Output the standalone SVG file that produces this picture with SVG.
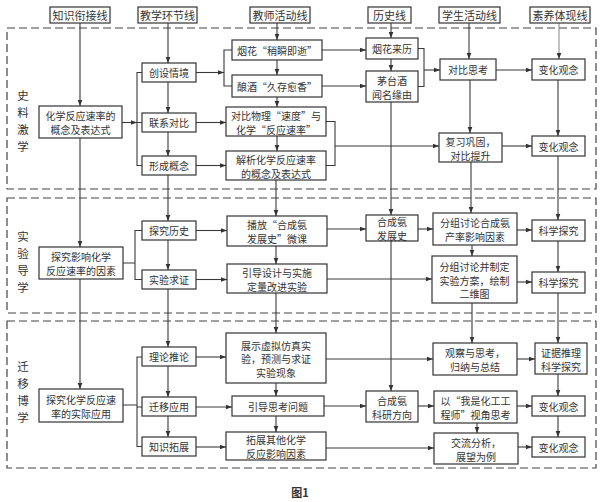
<svg xmlns="http://www.w3.org/2000/svg" width="600" height="502" viewBox="0 0 600 502">
<style>
.bx{fill:#fff;stroke:#333;stroke-width:1.2}
.sec{fill:none;stroke:#444;stroke-width:1.2;stroke-dasharray:8 4}
text,tspan{font-family:"Noto Sans CJK SC","Liberation Serif",sans-serif;font-size:10px;fill:#333;text-anchor:middle;dominant-baseline:central}
.hd{font-size:11px}
.lb,.lb tspan{font-size:11.5px}
.ln{fill:none;stroke:#3a3a3a;stroke-width:1.1}
.ar{marker-end:url(#ah)}
.thin{stroke:#777;stroke-width:0.9}
</style>
<defs>
<marker id="ah" markerWidth="7" markerHeight="6" refX="6.5" refY="3" orient="auto" markerUnits="userSpaceOnUse">
<path d="M0,0.5 L6.5,3 L0,5.5 z" fill="#333"/>
</marker>
</defs>
<rect width="600" height="502" fill="#fff"/>
<g id="sections">
<rect class="sec" x="7" y="28" width="589" height="161"/>
<rect class="sec" x="7" y="198" width="589" height="115"/>
<rect class="sec" x="7" y="321" width="589" height="147"/>
<text class="lb"><tspan x="23" y="95">史</tspan><tspan x="23" y="112">料</tspan><tspan x="23" y="129">激</tspan><tspan x="23" y="146">学</tspan></text>
<text class="lb"><tspan x="23" y="236">实</tspan><tspan x="23" y="253">验</tspan><tspan x="23" y="270">导</tspan><tspan x="23" y="287">学</tspan></text>
<text class="lb"><tspan x="23" y="366">迁</tspan><tspan x="23" y="383">移</tspan><tspan x="23" y="400">博</tspan><tspan x="23" y="417">学</tspan></text>
</g>
<g id="connectors">
<path class="ln ar" d="M80,23 V106"/><path class="ln ar" d="M80,138 V247"/><path class="ln ar" d="M80,279 V389"/>
<path class="ln ar" d="M168,23 V63"/><path class="ln ar" d="M168,82 V113"/><path class="ln ar" d="M168,132 V156"/><path class="ln ar" d="M168,175 V221"/><path class="ln ar" d="M168,240 V270"/><path class="ln ar" d="M168,289 V347"/><path class="ln ar" d="M168,366 V397"/><path class="ln ar" d="M168,416 V437"/>
<path class="ln ar" d="M277,23 V40"/><path class="ln ar" d="M277,60 V75"/><path class="ln ar" d="M277,97 V107"/><path class="ln ar" d="M277,136 V151"/><path class="ln ar" d="M276,180 V216"/><path class="ln ar" d="M276,246 V264"/><path class="ln ar" d="M276,293 V333"/><path class="ln ar" d="M276,383 V396"/><path class="ln ar" d="M276,416 V432"/>
<path class="ln ar" d="M391,23 V38"/><path class="ln ar" d="M391,59 V71"/><path class="ln ar" d="M391,102 V215"/><path class="ln ar" d="M391,241 V391"/>
<path class="ln ar" d="M469,23 V59"/><path class="ln ar" d="M470,80 V133"/><path class="ln ar" d="M471,162 V213"/><path class="ln ar" d="M472,245 V256"/><path class="ln ar" d="M472,303 V343"/><path class="ln ar" d="M477,423 V433"/>
<path class="ln ar thin" d="M559,23 V59"/><path class="ln ar" d="M558,80 V136"/><path class="ln ar" d="M558,156 V220"/><path class="ln ar" d="M558,241 V272"/><path class="ln ar" d="M558,293 V343"/><path class="ln ar" d="M558,374 V396"/><path class="ln ar" d="M558,416 V437"/>
<path class="ln ar" d="M122,122.5 H137"/><path class="ln" d="M142,72.5 H137 V165.5 H142 M137,122.5 H142"/>
<path class="ln" d="M123,263 H135 M142,230.5 H135 V279.5 H142"/>
<path class="ln" d="M123,405 H137 M142,357 H137 V446.5 H142 M137,407 H142"/>
<path class="ln ar" d="M196,72.5 H224"/><path class="ln" d="M232,50 H224 V86 H232"/>
<path class="ln ar" d="M196,122.5 H226"/><path class="ln ar" d="M196,165.5 H226"/>
<path class="ln ar" d="M196,230.5 H227"/><path class="ln ar" d="M196,279.5 H227"/>
<path class="ln ar" d="M196,357 H226"/><path class="ln ar" d="M196,407 H232"/><path class="ln ar" d="M196,447 H226"/>
<path class="ln ar" d="M322,50 H366"/><path class="ln ar" d="M322,86 H366"/>
<path class="ln" d="M326,121.5 H335 V165.5 H326"/><path class="ln ar" d="M335,146 H439"/>
<path class="ln" d="M418,48.5 H424 V86.5 H418"/><path class="ln ar" d="M424,70 H440"/>
<path class="ln ar" d="M327,229 H366"/><path class="ln ar" d="M418,229 H433"/>
<path class="ln ar" d="M327,279 H432"/>
<path class="ln ar" d="M326,359 H433"/>
<path class="ln ar" d="M324,406 H366"/><path class="ln ar" d="M418,406 H434"/>
<path class="ln ar" d="M326,448 H434"/>
<path class="ln ar" d="M496,70 H532"/><path class="ln ar" d="M502,146 H532"/>
<path class="ln ar" d="M517,230 H532"/><path class="ln ar" d="M517,282 H532"/>
<path class="ln ar" d="M517,359 H535"/><path class="ln ar" d="M517,406 H532"/><path class="ln ar" d="M518,447 H532"/>
</g>
<g id="headers">
<g id="h-knowledge"><rect class="bx" x="50" y="7" width="60" height="16"/><text class="hd" x="80" y="15">知识衔接线</text></g>
<g id="h-teaching"><rect class="bx" x="138" y="7" width="59" height="16"/><text class="hd" x="167.5" y="15">教学环节线</text></g>
<g id="h-teacher"><rect class="bx" x="250" y="7" width="60" height="16"/><text class="hd" x="280" y="15">教师活动线</text></g>
<g id="h-history"><rect class="bx" x="368" y="7" width="43" height="16"/><text class="hd" x="389.5" y="15">历史线</text></g>
<g id="h-student"><rect class="bx" x="439" y="7" width="61" height="16"/><text class="hd" x="469.5" y="15">学生活动线</text></g>
<g id="h-competency"><rect class="bx" x="530" y="7" width="60" height="16"/><text class="hd" x="560" y="15">素养体现线</text></g>
</g>
<g id="k1"><rect class="bx" x="39" y="106" width="83" height="32"/><text><tspan x="80.5" y="115">化学反应速率的</tspan><tspan x="80.5" y="129">概念及表达式</tspan></text></g>
<g id="k2"><rect class="bx" x="39" y="247" width="84" height="32"/><text><tspan x="81" y="256">探究影响化学</tspan><tspan x="81" y="270">反应速率的因素</tspan></text></g>
<g id="k3"><rect class="bx" x="39" y="389" width="84" height="33"/><text><tspan x="81" y="398.5">探究化学反应速</tspan><tspan x="81" y="412.5">率的实际应用</tspan></text></g>
<g id="t1"><rect class="bx" x="142" y="63" width="54" height="19"/><text x="169" y="72.5">创设情境</text></g>
<g id="t2"><rect class="bx" x="142" y="113" width="54" height="19"/><text x="169" y="122.5">联系对比</text></g>
<g id="t3"><rect class="bx" x="142" y="156" width="54" height="19"/><text x="169" y="165.5">形成概念</text></g>
<g id="t4"><rect class="bx" x="142" y="221" width="54" height="19"/><text x="169" y="230.5">探究历史</text></g>
<g id="t5"><rect class="bx" x="142" y="270" width="54" height="19"/><text x="169" y="279.5">实验求证</text></g>
<g id="t6"><rect class="bx" x="142" y="347" width="54" height="19"/><text x="169" y="356.5">理论推论</text></g>
<g id="t7"><rect class="bx" x="142" y="397" width="54" height="19"/><text x="169" y="406.5">迁移应用</text></g>
<g id="t8"><rect class="bx" x="142" y="437" width="54" height="19"/><text x="169" y="446.5">知识拓展</text></g>
<g id="a1"><rect class="bx" x="232" y="40" width="90" height="20"/><text x="277" y="50">烟花“稍瞬即逝”</text></g>
<g id="a2"><rect class="bx" x="232" y="75" width="90" height="22"/><text x="277" y="86">酿酒“久存愈香”</text></g>
<g id="a3"><rect class="bx" x="226" y="107" width="100" height="29"/><text><tspan x="276" y="114.5">对比物理“速度”与</tspan><tspan x="276" y="128.5">化学“反应速率”</tspan></text></g>
<g id="a4"><rect class="bx" x="226" y="151" width="100" height="29"/><text><tspan x="276" y="158.5">解析化学反应速率</tspan><tspan x="276" y="172.5">的概念及表达式</tspan></text></g>
<g id="a5"><rect class="bx" x="227" y="216" width="100" height="30"/><text><tspan x="277" y="224">播放“合成氨</tspan><tspan x="277" y="238">发展史”微课</tspan></text></g>
<g id="a6"><rect class="bx" x="227" y="264" width="100" height="29"/><text><tspan x="277" y="271.5">引导设计与实施</tspan><tspan x="277" y="285.5">定量改进实验</tspan></text></g>
<g id="a7"><rect class="bx" x="226" y="333" width="100" height="50"/><text><tspan x="276" y="344.5">展示虚拟仿真实</tspan><tspan x="276" y="358">验，预测与求证</tspan><tspan x="276" y="371.5">实验现象</tspan></text></g>
<g id="a8"><rect class="bx" x="232" y="396" width="92" height="20"/><text x="278" y="406">引导思考问题</text></g>
<g id="a9"><rect class="bx" x="226" y="432" width="100" height="28"/><text><tspan x="276" y="439">拓展其他化学</tspan><tspan x="276" y="453">反应影响因素</tspan></text></g>
<g id="hs1"><rect class="bx" x="366" y="38" width="52" height="21"/><text x="392" y="48.5">烟花来历</text></g>
<g id="hs2"><rect class="bx" x="366" y="71" width="52" height="31"/><text><tspan x="392" y="79.5">茅台酒</tspan><tspan x="392" y="93.5">闻名缘由</tspan></text></g>
<g id="hs3"><rect class="bx" x="366" y="215" width="52" height="26"/><text><tspan x="392" y="221">合成氨</tspan><tspan x="392" y="235">发展史</tspan></text></g>
<g id="hs4"><rect class="bx" x="366" y="391" width="52" height="31"/><text><tspan x="392" y="399.5">合成氨</tspan><tspan x="392" y="413.5">科研方向</tspan></text></g>
<g id="s1"><rect class="bx" x="440" y="59" width="56" height="21"/><text x="468" y="69.5">对比思考</text></g>
<g id="s2"><rect class="bx" x="439" y="133" width="63" height="29"/><text><tspan x="470.5" y="140.5">复习巩固，</tspan><tspan x="470.5" y="154.5">对比提升</tspan></text></g>
<g id="s3"><rect class="bx" x="433" y="213" width="84" height="32"/><text><tspan x="475" y="222">分组讨论合成氨</tspan><tspan x="475" y="236">产率影响因素</tspan></text></g>
<g id="s4"><rect class="bx" x="432" y="256" width="85" height="47"/><text><tspan x="474.5" y="266">分组讨论并制定</tspan><tspan x="474.5" y="279.5">实验方案，绘制</tspan><tspan x="474.5" y="293">二维图</tspan></text></g>
<g id="s5"><rect class="bx" x="433" y="343" width="84" height="32"/><text><tspan x="475" y="352">观察与思考，</tspan><tspan x="475" y="366">归纳与总结</tspan></text></g>
<g id="s6"><rect class="bx" x="434" y="391" width="83" height="32"/><text><tspan x="475.5" y="400">以“我是化工工</tspan><tspan x="475.5" y="414">程师”视角思考</tspan></text></g>
<g id="s7"><rect class="bx" x="434" y="433" width="84" height="31"/><text><tspan x="476" y="441.5">交流分析，</tspan><tspan x="476" y="455.5">展望为例</tspan></text></g>
<g id="q1"><rect class="bx" x="532" y="59" width="53" height="21"/><text x="558.5" y="69.5">变化观念</text></g>
<g id="q2"><rect class="bx" x="532" y="136" width="53" height="20"/><text x="558.5" y="146">变化观念</text></g>
<g id="q3"><rect class="bx" x="532" y="220" width="53" height="21"/><text x="558.5" y="230.5">科学探究</text></g>
<g id="q4"><rect class="bx" x="532" y="272" width="53" height="21"/><text x="558.5" y="282.5">科学探究</text></g>
<g id="q5"><rect class="bx" x="535" y="343" width="52" height="31"/><text><tspan x="561" y="351.5">证据推理</tspan><tspan x="561" y="365.5">科学探究</tspan></text></g>
<g id="q6"><rect class="bx" x="532" y="396" width="53" height="20"/><text x="558.5" y="406">变化观念</text></g>
<g id="q7"><rect class="bx" x="532" y="437" width="53" height="20"/><text x="558.5" y="447">变化观念</text></g>
<text x="300" y="492" style="font-size:11px;font-weight:bold">图1</text>
</svg>
